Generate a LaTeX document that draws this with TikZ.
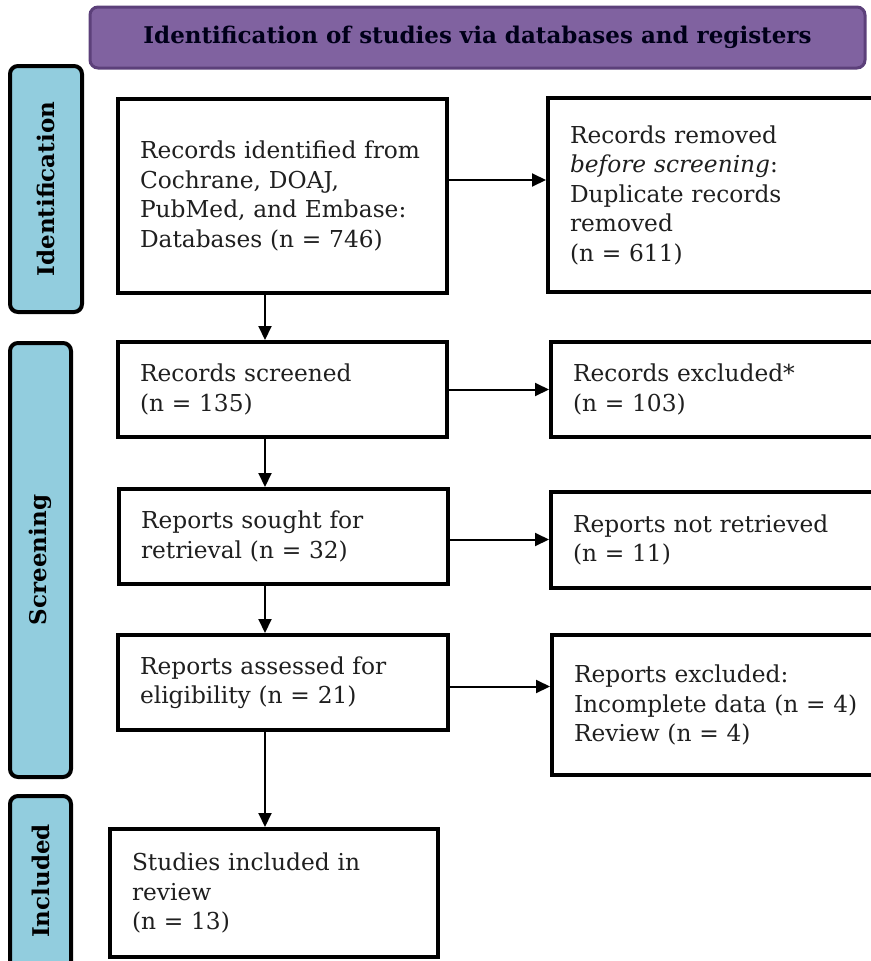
\documentclass[tikz,border=0pt]{standalone}
\usepackage{fontspec}
\setmainfont{DejaVu Serif}
\usepackage{tikz}
\usetikzlibrary{positioning}
\usetikzlibrary{arrows.meta}

\definecolor{bannerfill}{RGB}{128,98,160}
\definecolor{bannerline}{RGB}{92,64,122}
\definecolor{stagefill}{RGB}{146,205,222}

\tikzset{
  box/.style={draw, line width=4pt, fill=white, align=left, inner xsep=22pt,
    font=\fontsize{23.3}{29.5}\selectfont, text=black!88},
  stage/.style={draw, line width=4pt, rounded corners=8pt, fill=stagefill},
  stagelabel/.style={rotate=90, font=\fontsize{23}{25}\bfseries\selectfont},
  banner/.style={draw=bannerline, line width=3pt, rounded corners=8pt, fill=bannerfill,
    font=\fontsize{23}{25}\bfseries\selectfont, text=black!90!blue},
  flow/.style={line width=2pt, -{Triangle[length=14pt,width=13pt]}}
}

\begin{document}
\begin{tikzpicture}[x=1pt,y=-1pt]
\useasboundingbox (0,0) rectangle (870,961);

\node[banner, minimum width=775pt, minimum height=61pt] (banner) at (477.5,37.5)
  {Identification of studies via databases and registers};

% stages
\node[stage, minimum width=72pt, minimum height=246pt] (identbar) at (46,189) {};
\node[stagelabel] at (identbar) {Identification};
\node[stage, minimum width=61pt, minimum height=434pt] (screenbar) at (40.5,560) {};
\node[stagelabel] at (screenbar) {Screening};
\node[stage, minimum width=61pt, minimum height=184pt] (inclbar) at (40.5,888) {};
\node[stagelabel] at ([yshift=7pt]inclbar.center) {Included};

% boxes
\node[box, minimum width=329pt, minimum height=194pt, text width=285pt] (identified) at (282.5,196)
  {Records identified from\\Cochrane, DOAJ,\\PubMed, and Embase:\\Databases (n = 746)};
\node[box, minimum width=340pt, minimum height=194pt, text width=296pt] (removed) at (718,195)
  {Records removed\\\textit{before screening}:\\Duplicate records\\removed\\(n = 611)};
\node[box, minimum width=329pt, minimum height=95pt, text width=285pt] (screened) at (282.5,389.5)
  {Records screened\\(n = 135)};
\node[box, minimum width=340pt, minimum height=95pt, text width=296pt] (excluded) at (721,389.5)
  {Records excluded*\\(n = 103)};
\node[box, minimum width=329pt, minimum height=95pt, text width=285pt] (sought) at (283.5,536.5)
  {Reports sought for\\retrieval (n = 32)};
\node[box, minimum width=340pt, minimum height=96pt, text width=296pt] (notretr) at (721,540)
  {Reports not retrieved\\(n = 11)};
\node[box, minimum width=330pt, minimum height=95pt, text width=286pt] (assessed) at (283,682.5)
  {Reports assessed for\\eligibility (n = 21)};
\node[box, minimum width=340pt, minimum height=140pt, text width=296pt] (repexcl) at (722,705)
  {Reports excluded:\\Incomplete data (n = 4)\\Review (n = 4)};
\node[box, minimum width=328pt, minimum height=128pt, text width=284pt] (included) at (274,893)
  {Studies included in\\review\\(n = 13)};

\coordinate (spine) at (265,0);

% arrows
\draw[flow] ([yshift=16pt]identified.east) -- ([yshift=16pt]identified.east -| removed.west);
\draw[flow] (screened.east) -- (screened.east -| excluded.west);
\draw[flow] ([yshift=-3pt]sought.east) -- ([yshift=-3pt]sought.east -| notretr.west);
\draw[flow] ([yshift=-4pt]assessed.east) -- ([yshift=-4pt]assessed.east -| repexcl.west);
\draw[flow] (identified.south -| spine) -- (screened.north -| spine);
\draw[flow] (screened.south -| spine) -- (sought.north -| spine);
\draw[flow] (sought.south -| spine) -- (assessed.north -| spine);
\draw[flow] (assessed.south -| spine) -- (included.north -| spine);
\end{tikzpicture}
\end{document}
